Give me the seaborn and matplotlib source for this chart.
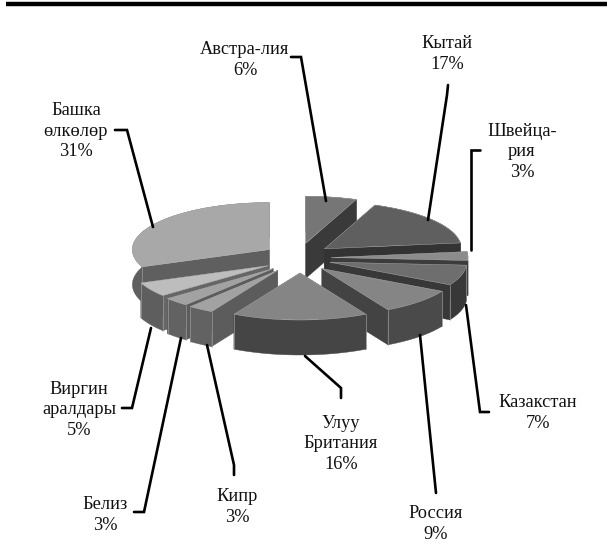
import numpy as np
import matplotlib
matplotlib.use("Agg")
import matplotlib.pyplot as plt
import seaborn as sns

# --- data ---
countries = ["Австра-лия", "Кытай", "Швейца-\nрия", "Казакстан", "Россия",
             "Улуу\nБритания", "Кипр", "Белиз", "Виргин\nаралдары", "Башка\nөлкөлөр"]
shares = [6, 17, 3, 7, 9, 16, 3, 3, 5, 31]

# --- style ---
top_colors = ["#767676", "#5f5f5f", "#8c8c8c", "#6e6e6e", "#858585",
              "#858585", "#a2a2a2", "#a2a2a2", "#bdbdbd", "#a8a8a8"]
end_colors = ["#3a3a3a", "#333333", "#3c3c3c", "#383838", "#434343",
              "#3c3c3c", "#5c5c5c", "#5c5c5c", "#666666", "#5f5f5f"]
arc_colors = ["#3a3a3a", "#333333", "#3c3c3c", "#383838", "#4a4a4a",
              "#454545", "#626262", "#626262", "#5e5e5e", "#5f5f5f"]
label_xy = [(245, 60), (447, 54), (522, 152), (538, 413), (436, 524),
            (341, 444), (237, 507), (105, 515), (79, 410), (76, 131)]
leaders = [[(291, 57), (301, 57), (326, 201)],
           [(448, 85), (447, 95), (428, 220)],
           [(480, 150), (471, 150), (471, 250)],
           [(489, 412), (480, 412), (466, 305)],
           [(436, 493), (420, 335)],
           [(341, 398), (341, 388), (305, 356)],
           [(234, 475), (234, 465), (207, 345)],
           [(134, 512), (144, 512), (181, 338)],
           [(122, 408), (132, 408), (151, 328)],
           [(115, 130), (127, 130), (153, 227)]]
CX, CY, RX, RY, DEPTH = 300, 258, 137, 47, 35
EX, EY = 31, 15
LEFT_SHIFT = 5

sns.set_theme(style="white")
plt.rcParams["font.family"] = ["Liberation Serif", "DejaVu Serif"]
fig = plt.figure(figsize=(6.13, 5.6), dpi=100)
ax = fig.add_axes([0, 0, 1, 1])
ax.set_xlim(0, 613)
ax.set_ylim(560, 0)
ax.axis("off")

ax.plot([6, 607], [3.5, 3.5], color="black", lw=3.2, solid_capstyle="butt")

edges = np.cumsum([0] + shares) / sum(shares) * 2 * np.pi
slices = []
for i in range(len(shares)):
    a0, a1 = edges[i], edges[i + 1]
    mid = (a0 + a1) / 2
    ax_ = CX + EX * np.sin(mid) - (LEFT_SHIFT if np.sin(mid) < 0 else 0)
    ay_ = CY - EY * np.cos(mid)
    slices.append((ay_, i, ax_, a0, a1))

for ay_, i, ax_, a0, a1 in sorted(slices):
    t = np.linspace(a0, a1, 60)
    xs = ax_ + RX * np.sin(t)
    ys = ay_ - RY * np.cos(t)
    walls = []
    for k, col in ((0, end_colors[i]), (-1, end_colors[i])):
        qx = [ax_, xs[k], xs[k], ax_]
        qy = [ay_, ys[k], ys[k] + DEPTH, ay_ + DEPTH]
        walls.append((np.mean(qy), qx, qy, col))
    for _, qx, qy, col in sorted(walls, key=lambda w: w[0]):
        ax.fill(qx, qy, color=col, lw=0.3, zorder=2)
    ax.fill(np.r_[xs, xs[::-1]], np.r_[ys, ys[::-1] + DEPTH],
            color=arc_colors[i], lw=0.3, zorder=2)
    for k in (0, -1):
        if ys[k] > ay_:
            ax.plot([xs[k], xs[k]], [ys[k], ys[k] + DEPTH], color="#9a9a9a", lw=0.5, zorder=2)
    ax.fill(np.r_[ax_, xs], np.r_[ay_, ys], facecolor=top_colors[i],
            edgecolor="#b5b5b5", lw=0.3, zorder=2)

for pts in leaders:
    px, py = zip(*pts)
    ax.plot(px, py, color="black", lw=1.9, zorder=3, solid_joinstyle="miter")

for name, val, (tx, ty) in zip(countries, shares, label_xy):
    ax.text(tx, ty, f"{name}\n{val}%", ha="center", va="center", fontsize=13.2,
            color="#111111", linespacing=1.25, zorder=4)

fig.savefig("out.png", dpi=100)
